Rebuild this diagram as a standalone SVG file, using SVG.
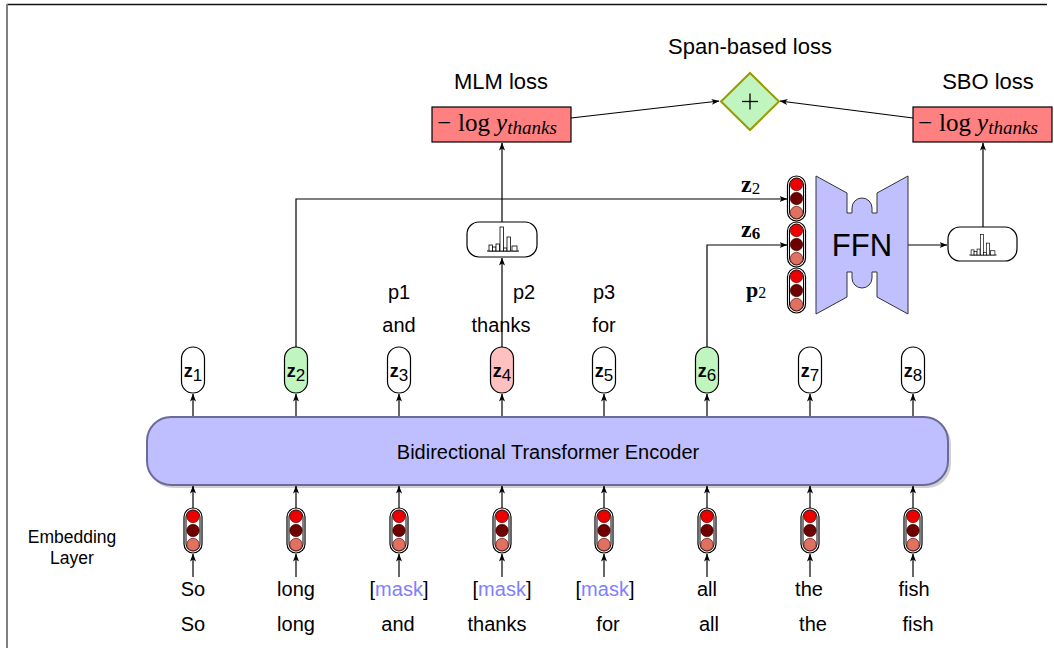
<svg xmlns="http://www.w3.org/2000/svg" width="1054" height="648" viewBox="0 0 1054 648">
<style>
.t{font-family:"Liberation Sans",Arial,sans-serif;font-size:20px;fill:#000;text-anchor:middle}
.emb{font-family:"Liberation Sans",Arial,sans-serif;font-size:17.5px;fill:#000;text-anchor:middle}
.lbl{font-family:"Liberation Sans",Arial,sans-serif;font-size:22px;fill:#000;text-anchor:middle}
.zl{font-family:"Liberation Sans",Arial,sans-serif;font-size:17px;fill:#000;text-anchor:middle}
.m{font-family:"Liberation Serif","Times New Roman",serif;fill:#000}
.ln{stroke:#000;stroke-width:1.2;fill:none}
.pill{fill:#fff;stroke:#000;stroke-width:1.2}
.pg{fill:#c0f5c0;stroke:#000;stroke-width:1.2}
.pr{fill:#ffc0c0;stroke:#000;stroke-width:1.2}
.vo{fill:#fff;stroke:#000;stroke-width:1.2}
.vi{fill:none;stroke:#000;stroke-width:1}
.c1{fill:#ee0000;stroke:#400;stroke-width:0.6}
.c2{fill:#6e0000;stroke:#300;stroke-width:0.6}
.c3{fill:#e07060;stroke:#400;stroke-width:0.6}
.loss{fill:#ff8080;stroke:#000;stroke-width:1.2}
.hist{fill:#fff;stroke:#000;stroke-width:1.2}
.bar{fill:#fff;stroke:#000;stroke-width:0.8}
.mask{fill:#8080ff}
</style>
<defs>
<marker id="ah" markerWidth="8" markerHeight="6" refX="7.5" refY="3" orient="auto" markerUnits="userSpaceOnUse">
<path d="M0,0 L8,3 L0,6 L2,3 Z" fill="#000"/>
</marker>
<g id="vec">
<rect class="vo" x="-9" y="0" width="18" height="45" rx="9"/>
<rect class="vi" x="-7" y="2" width="14" height="41" rx="7"/>
<circle class="c1" cx="0" cy="8.5" r="6.2"/>
<circle class="c2" cx="0" cy="22.5" r="6.2"/>
<circle class="c3" cx="0" cy="36.5" r="6.2"/>
</g>
<g id="bars">
<line x1="-16" y1="0" x2="16" y2="0" stroke="#000" stroke-width="1"/>
<rect class="bar" x="-14" y="-6" width="3.5" height="6"/>
<rect class="bar" x="-10.5" y="-4" width="3.5" height="4"/>
<rect class="bar" x="-7" y="-7" width="3.5" height="7"/>
<rect class="bar" x="-3" y="-24" width="3.5" height="24"/>
<rect class="bar" x="0.5" y="-3" width="3.5" height="3"/>
<rect class="bar" x="4" y="-14" width="3.5" height="14"/>
<rect class="bar" x="9" y="-5" width="5" height="5"/>
</g>
</defs>
<rect width="1054" height="648" fill="#fff"/>
<line x1="7" y1="4.5" x2="1047" y2="4.5" stroke="#111" stroke-width="1.5"/>
<line x1="7" y1="4" x2="7" y2="648" stroke="#808080" stroke-width="2"/>

<g id="connectors">
<line class="ln" x1="193" y1="417" x2="193" y2="394" marker-end="url(#ah)"/>
<line class="ln" x1="296" y1="417" x2="296" y2="394" marker-end="url(#ah)"/>
<line class="ln" x1="399" y1="417" x2="399" y2="394" marker-end="url(#ah)"/>
<line class="ln" x1="502" y1="417" x2="502" y2="394" marker-end="url(#ah)"/>
<line class="ln" x1="604" y1="417" x2="604" y2="394" marker-end="url(#ah)"/>
<line class="ln" x1="707" y1="417" x2="707" y2="394" marker-end="url(#ah)"/>
<line class="ln" x1="810" y1="417" x2="810" y2="394" marker-end="url(#ah)"/>
<line class="ln" x1="913" y1="417" x2="913" y2="394" marker-end="url(#ah)"/>
<line class="ln" x1="193" y1="508" x2="193" y2="486" marker-end="url(#ah)"/>
<line class="ln" x1="296" y1="508" x2="296" y2="486" marker-end="url(#ah)"/>
<line class="ln" x1="399" y1="508" x2="399" y2="486" marker-end="url(#ah)"/>
<line class="ln" x1="502" y1="508" x2="502" y2="486" marker-end="url(#ah)"/>
<line class="ln" x1="604" y1="508" x2="604" y2="486" marker-end="url(#ah)"/>
<line class="ln" x1="707" y1="508" x2="707" y2="486" marker-end="url(#ah)"/>
<line class="ln" x1="810" y1="508" x2="810" y2="486" marker-end="url(#ah)"/>
<line class="ln" x1="913" y1="508" x2="913" y2="486" marker-end="url(#ah)"/>
<line class="ln" x1="193" y1="577" x2="193" y2="554" marker-end="url(#ah)"/>
<line class="ln" x1="296" y1="577" x2="296" y2="554" marker-end="url(#ah)"/>
<line class="ln" x1="399" y1="577" x2="399" y2="554" marker-end="url(#ah)"/>
<line class="ln" x1="502" y1="577" x2="502" y2="554" marker-end="url(#ah)"/>
<line class="ln" x1="604" y1="577" x2="604" y2="554" marker-end="url(#ah)"/>
<line class="ln" x1="707" y1="577" x2="707" y2="554" marker-end="url(#ah)"/>
<line class="ln" x1="810" y1="577" x2="810" y2="554" marker-end="url(#ah)"/>
<line class="ln" x1="913" y1="577" x2="913" y2="554" marker-end="url(#ah)"/>
<polyline class="ln" points="296,347 296,199 787,199" marker-end="url(#ah)"/>
<polyline class="ln" points="707,347 707,245 787,245" marker-end="url(#ah)"/>
<line class="ln" x1="502" y1="347" x2="502" y2="258" marker-end="url(#ah)"/>
<line class="ln" x1="502" y1="222" x2="502" y2="143" marker-end="url(#ah)"/>
<line class="ln" x1="908" y1="245" x2="947" y2="245" marker-end="url(#ah)"/>
<line class="ln" x1="983" y1="227" x2="983" y2="143" marker-end="url(#ah)"/>
<line class="ln" x1="571" y1="118" x2="719" y2="101" marker-end="url(#ah)"/>
<line class="ln" x1="913" y1="118" x2="780" y2="101" marker-end="url(#ah)"/>
</g>

<g id="encoder">
<rect x="149" y="420" width="802" height="68" rx="24" fill="#000" opacity="0.18"/>
<rect x="147" y="417" width="801" height="68" rx="24" fill="#bfbfff" stroke="#6b6b9a" stroke-width="2"/>
<text class="t" x="548" y="459">Bidirectional Transformer Encoder</text>
</g>

<g id="z1"><rect class="pill" x="181.5" y="347" width="23" height="46" rx="11.5"/><text class="zl" x="193" y="377"><tspan font-weight="bold" font-size="18">z</tspan><tspan dy="4">1</tspan></text></g>
<g id="z2"><rect class="pg" x="284.5" y="347" width="23" height="46" rx="11.5"/><text class="zl" x="296" y="377"><tspan font-weight="bold" font-size="18">z</tspan><tspan dy="4">2</tspan></text></g>
<g id="z3"><rect class="pill" x="387.5" y="347" width="23" height="46" rx="11.5"/><text class="zl" x="399" y="377"><tspan font-weight="bold" font-size="18">z</tspan><tspan dy="4">3</tspan></text></g>
<g id="z4"><rect class="pr" x="490.5" y="347" width="23" height="46" rx="11.5"/><text class="zl" x="502" y="377"><tspan font-weight="bold" font-size="18">z</tspan><tspan dy="4">4</tspan></text></g>
<g id="z5"><rect class="pill" x="592.5" y="347" width="23" height="46" rx="11.5"/><text class="zl" x="604" y="377"><tspan font-weight="bold" font-size="18">z</tspan><tspan dy="4">5</tspan></text></g>
<g id="z6"><rect class="pg" x="695.5" y="347" width="23" height="46" rx="11.5"/><text class="zl" x="707" y="377"><tspan font-weight="bold" font-size="18">z</tspan><tspan dy="4">6</tspan></text></g>
<g id="z7"><rect class="pill" x="798.5" y="347" width="23" height="46" rx="11.5"/><text class="zl" x="810" y="377"><tspan font-weight="bold" font-size="18">z</tspan><tspan dy="4">7</tspan></text></g>
<g id="z8"><rect class="pill" x="901.5" y="347" width="23" height="46" rx="11.5"/><text class="zl" x="913" y="377"><tspan font-weight="bold" font-size="18">z</tspan><tspan dy="4">8</tspan></text></g>

<g id="emb1"><use href="#vec" x="193" y="508"/></g>
<g id="emb2"><use href="#vec" x="296" y="508"/></g>
<g id="emb3"><use href="#vec" x="399" y="508"/></g>
<g id="emb4"><use href="#vec" x="502" y="508"/></g>
<g id="emb5"><use href="#vec" x="604" y="508"/></g>
<g id="emb6"><use href="#vec" x="707" y="508"/></g>
<g id="emb7"><use href="#vec" x="810" y="508"/></g>
<g id="emb8"><use href="#vec" x="913" y="508"/></g>

<g id="embedding-label">
<text class="emb" x="72" y="543">Embedding</text>
<text class="emb" x="72" y="564">Layer</text>
</g>

<g id="words-input">
<text class="t" x="193" y="596">So</text>
<text class="t" x="296" y="596">long</text>
<text class="t" x="399" y="596">[<tspan class="mask">mask</tspan>]</text>
<text class="t" x="502" y="596">[<tspan class="mask">mask</tspan>]</text>
<text class="t" x="605" y="596">[<tspan class="mask">mask</tspan>]</text>
<text class="t" x="707" y="596">all</text>
<text class="t" x="809" y="596">the</text>
<text class="t" x="914" y="596">fish</text>
</g>
<g id="words-orig">
<text class="t" x="193" y="631">So</text>
<text class="t" x="296" y="631">long</text>
<text class="t" x="398" y="631">and</text>
<text class="t" x="497" y="631">thanks</text>
<text class="t" x="608" y="631">for</text>
<text class="t" x="709" y="631">all</text>
<text class="t" x="813" y="631">the</text>
<text class="t" x="918" y="631">fish</text>
</g>
<g id="targets">
<text class="t" x="399" y="299">p1</text>
<text class="t" x="399" y="332">and</text>
<text class="t" x="524" y="299">p2</text>
<text class="t" x="501" y="332">thanks</text>
<text class="t" x="604" y="299">p3</text>
<text class="t" x="604" y="332">for</text>
</g>

<g id="hist1"><rect class="hist" x="467" y="222" width="70" height="35" rx="12"/><use href="#bars" x="503" y="251"/></g>
<g id="hist2"><rect class="hist" x="948" y="227" width="69" height="34" rx="12"/><use href="#bars" x="983" y="255" transform="translate(983 255) scale(0.85) translate(-983 -255)"/></g>

<g id="mlm-loss">
<text class="lbl" x="501" y="89">MLM loss</text>
<rect class="loss" x="432" y="107" width="139" height="35"/>
<text class="m" x="437" y="131" font-size="25">−<tspan dx="7">log</tspan><tspan dx="6" font-style="italic">y</tspan><tspan font-style="italic" font-size="19" dy="3">thanks</tspan></text>
</g>
<g id="sbo-loss">
<text class="lbl" x="988" y="89">SBO loss</text>
<rect class="loss" x="913" y="107" width="139" height="35"/>
<text class="m" x="918" y="131" font-size="25">−<tspan dx="7">log</tspan><tspan dx="6" font-style="italic">y</tspan><tspan font-style="italic" font-size="19" dy="3">thanks</tspan></text>
</g>
<g id="sum">
<text class="lbl" x="750" y="54">Span-based loss</text>
<polygon points="750,73 779,101.5 750,130 721,101.5" fill="#c0f5c0" stroke="#999900" stroke-width="2"/>
<line x1="742" y1="101.5" x2="758" y2="101.5" stroke="#000" stroke-width="1.3"/>
<line x1="750" y1="93.5" x2="750" y2="109.5" stroke="#000" stroke-width="1.3"/>
</g>

<g id="ffn-inputs">
<use href="#vec" x="796.5" y="176"/>
<use href="#vec" x="796.5" y="222"/>
<use href="#vec" x="796.5" y="268"/>
<text class="m" x="741" y="192" font-size="24" font-weight="bold">z<tspan font-weight="normal" font-size="17" dy="2">2</tspan></text>
<text class="m" x="741" y="237" font-size="24" font-weight="bold">z<tspan font-size="17" dy="2">6</tspan></text>
<text class="m" x="746" y="297" font-size="22" font-weight="bold">p<tspan font-weight="normal" font-size="16" dy="1">2</tspan></text>
</g>

<g id="ffn">
<path d="M816,176 L847,193 L847,213 L852,213 L852,208 A10,10 0 0 1 872,208 L872,213 L877,213 L877,193 L908,176 L908,314 L877,297 L877,272 L872,272 L872,278 A10,10 0 0 1 852,278 L852,272 L847,272 L847,297 L816,314 Z" fill="#c0c0ff" stroke="#333" stroke-width="1"/>
<text x="862" y="256" font-family="'Liberation Sans',Arial,sans-serif" font-size="31" text-anchor="middle">FFN</text>
</g>
</svg>
